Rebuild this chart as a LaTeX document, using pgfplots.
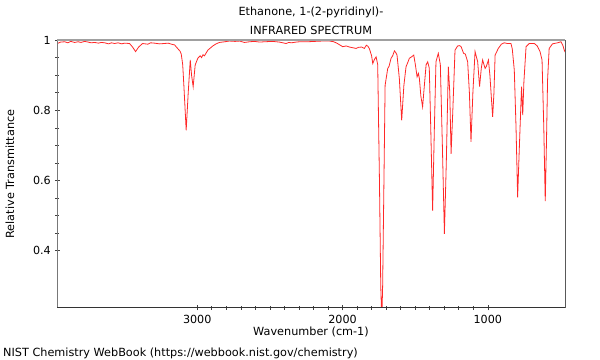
\documentclass[border=0pt]{standalone}
\usepackage{pgfplots}
\pgfplotsset{compat=1.18}
\usepackage{fontspec}
\setmainfont{DejaVu Sans}
\definecolor{specred}{RGB}{255,40,40}
\definecolor{topgray}{RGB}{160,160,160}
\definecolor{leftgray}{RGB}{120,120,120}
\begin{document}
\fontsize{11.3}{13.5}\selectfont
\begin{tikzpicture}[x=1bp,y=1bp]
\useasboundingbox (0bp,0bp) rectangle (600bp,360bp);
\begin{axis}[
  at={(57.3bp,52bp)}, anchor=south west,
  scale only axis, width=508bp, height=268bp,
  x dir=reverse,
  xmin=467, xmax=3963, ymin=0.237, ymax=1.0,
  xtick={1000,2000,3000}, minor x tick num=9,
  ytick={0.4,0.6,0.8,1}, yticklabels={0.4,0.6,0.8,1},
  minor y tick num=3,
  xtick pos=bottom, ytick pos=left,
  tick align=center,
  major tick length=5bp, minor tick length=4bp,
  tick style={color=black!75, line width=0.6bp},
  axis line style={draw=none},
  clip mode=individual,
  /pgf/number format/assume math mode=true,
  tick label style={font=\fontsize{11.2}{13.4}\selectfont},
  xticklabel style={yshift=-0.5bp},
  /pgf/number format/1000 sep={},
]
\addplot[specred, line width=0.8bp] table {
3963 0.990
3940 0.994
3912 0.995
3890 0.992
3870 0.996
3844 0.993
3820 0.995
3800 0.993
3775 0.996
3750 0.994
3730 0.992
3706 0.993
3680 0.991
3660 0.993
3637 0.992
3610 0.989
3590 0.992
3569 0.990
3545 0.992
3520 0.989
3500 0.991
3466 0.990
3445 0.980
3424 0.967
3403 0.980
3376 0.990
3340 0.988
3320 0.992
3294 0.991
3260 0.989
3226 0.990
3200 0.991
3177 0.988
3156 0.986
3133 0.975
3118 0.968
3110 0.960
3100 0.930
3092 0.871
3076 0.743
3062 0.850
3048 0.943
3039 0.900
3028 0.867
3014 0.929
2996 0.948
2980 0.955
2970 0.950
2960 0.958
2950 0.955
2927 0.971
2893 0.983
2870 0.989
2847 0.993
2810 0.995
2778 0.997
2740 0.996
2709 0.997
2675 0.993
2640 0.995
2606 0.996
2570 0.994
2537 0.995
2480 0.996
2434 0.994
2400 0.991
2388 0.990
2370 0.993
2351 0.992
2320 0.994
2296 0.995
2240 0.995
2193 0.996
2140 0.997
2090 0.997
2060 0.995
2035 0.990
2015 0.985
1999 0.981
1975 0.983
1953 0.980
1930 0.978
1907 0.976
1890 0.979
1870 0.980
1850 0.976
1836 0.985
1825 0.982
1815 0.975
1800 0.955
1792 0.933
1780 0.945
1769 0.952
1758 0.930
1746 0.600
1737 0.300
1730 0.200
1724 0.300
1715 0.600
1707 0.871
1689 0.919
1680 0.925
1666 0.948
1655 0.955
1643 0.969
1635 0.965
1625 0.957
1609 0.890
1593 0.771
1578 0.870
1563 0.924
1552 0.935
1540 0.948
1525 0.952
1510 0.957
1499 0.930
1492 0.910
1487 0.895
1478 0.905
1471 0.890
1461 0.840
1449 0.810
1437 0.870
1425 0.929
1414 0.938
1403 0.920
1393 0.750
1380 0.514
1368 0.750
1357 0.938
1341 0.962
1327 0.930
1313 0.700
1299 0.448
1286 0.650
1272 0.924
1262 0.850
1253 0.676
1241 0.800
1226 0.971
1208 0.983
1195 0.984
1184 0.981
1167 0.962
1155 0.960
1139 0.938
1127 0.850
1116 0.710
1103 0.850
1088 0.967
1070 0.938
1057 0.867
1045 0.920
1036 0.943
1019 0.919
1010 0.925
996 0.943
986 0.900
967 0.781
958 0.850
950 0.957
928 0.976
907 0.988
887 0.992
866 0.990
841 0.990
832 0.975
818 0.914
806 0.750
795 0.552
787 0.650
779 0.743
768 0.867
760 0.786
752 0.880
737 0.981
715 0.990
680 0.990
660 0.983
641 0.967
627 0.943
615 0.750
605 0.541
597 0.700
589 0.886
578 0.976
555 0.989
520 0.992
497 0.995
484 0.985
474 0.971
467 0.965
};
\draw[leftgray, line width=1.2bp] (rel axis cs:0,0) -- (rel axis cs:0,1);
\draw[black!80, line width=1bp] (rel axis cs:0,0) -- (rel axis cs:1,0);
\draw[black!65, line width=1bp] (rel axis cs:1,0) -- (rel axis cs:1,1);
\draw[topgray, line width=2bp] (rel axis cs:0,1) -- (rel axis cs:1,1);
\end{axis}
\node at (311bp,348bp) {Ethanone, 1-(2-pyridinyl)-};
\node at (311bp,330bp) {INFRARED SPECTRUM};
\node at (311bp,28bp) {Wavenumber (cm-1)};
\node[rotate=90] at (10bp,186bp) {Relative Transmittance};
\node[anchor=west, inner sep=0pt] at (3bp,7bp) {NIST Chemistry WebBook (https://webbook.nist.gov/chemistry)};
\end{tikzpicture}
\end{document}
